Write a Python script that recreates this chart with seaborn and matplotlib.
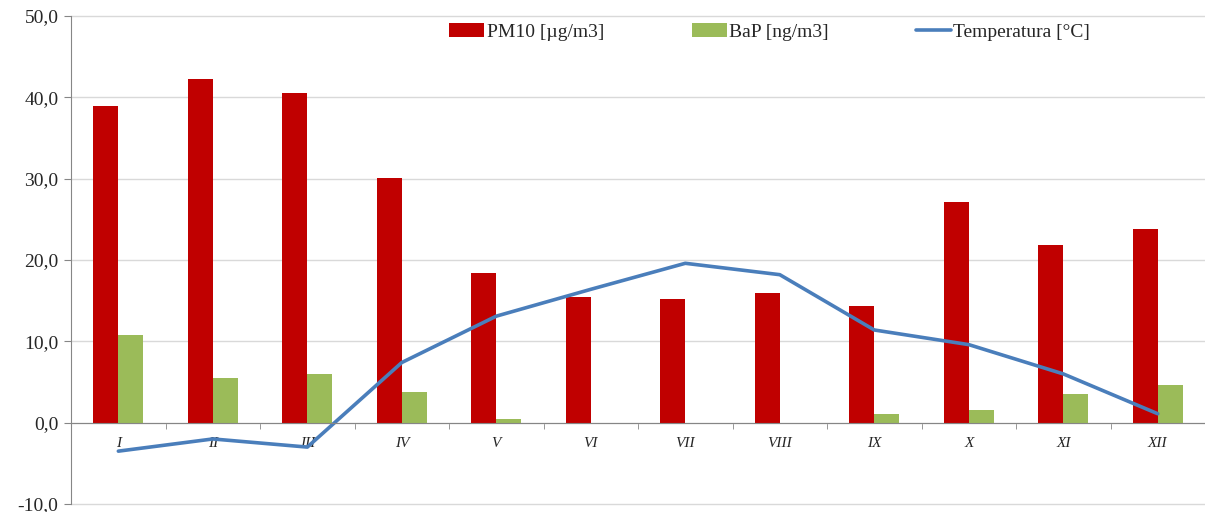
import numpy as np
import pandas as pd
import matplotlib
matplotlib.use("Agg")
import matplotlib.pyplot as plt
import matplotlib.ticker as ticker
import seaborn as sns

sns.set_style("white")
plt.rcParams['font.family'] = ['Liberation Serif', 'DejaVu Serif']

months = ["I", "II", "III", "IV", "V", "VI", "VII", "VIII", "IX", "X", "XI", "XII"]
pm10 = [38.9, 42.3, 40.5, 30.1, 18.4, 15.5, 15.2, 15.9, 14.4, 27.1, 21.9, 23.8]
bap = [10.8, 5.5, 6.0, 3.8, 0.4, 0.0, 0.0, 0.0, 1.1, 1.5, 3.5, 4.6]
temp = [-3.5, -2.0, -3.0, 7.4, 13.1, 16.4, 19.6, 18.2, 11.4, 9.6, 6.0, 1.1]

pm_label = "PM10 [µg/m3]"
bap_label = "BaP [ng/m3]"
temp_label = "Temperatura [°C]"

df = pd.DataFrame({
    "month": months * 2,
    "series": [pm_label] * 12 + [bap_label] * 12,
    "value": pm10 + bap,
})

fig = plt.figure(figsize=(12.05, 5.12), dpi=100)
ax = fig.add_axes([0.059, 0.0156, 0.941, 0.953])

sns.barplot(data=df, x="month", y="value", hue="series", order=months,
            palette={pm_label: "#C00000", bap_label: "#9BBB59"},
            width=0.526, gap=0, saturation=1, linewidth=0, ax=ax)
sns.lineplot(x=np.arange(12), y=temp, color="#4A7EBB", linewidth=2.6,
             label=temp_label, ax=ax)

ax.set_ylim(-10, 50)
ax.set_xlim(-0.5, 11.42)
ax.set_yticks(range(-10, 51, 10))
ax.yaxis.set_major_formatter(ticker.FuncFormatter(lambda v, p: f"{v:.1f}".replace(".", ",")))
ax.grid(axis="y", color="#D9D9D9", linewidth=1)
ax.set_axisbelow(True)
for gl in ax.get_ygridlines():
    gl.set_clip_on(False)
ax.set_xlabel("")
ax.set_ylabel("")

for s in ["top", "right"]:
    ax.spines[s].set_visible(False)
ax.spines["left"].set_color("#868686")
ax.spines["bottom"].set_color("#868686")
ax.spines["bottom"].set_position(("data", 0))

ax.tick_params(axis="y", labelsize=14, length=5, color="#868686", pad=4, left=True)
ax.tick_params(axis="x", which="major", length=0, pad=10, labelsize=11)
ax.set_xticks(np.arange(12) + 0.5, minor=True)
ax.tick_params(axis="x", which="minor", length=4, color="#868686", bottom=True)
for t in ax.get_xticklabels():
    t.set_fontstyle("italic")

handles, labels = ax.get_legend_handles_labels()
ax.legend(handles, labels, ncol=3, frameon=False, fontsize=14,
          loc="upper left", bbox_to_anchor=(0.373, 0.955), bbox_transform=fig.transFigure,
          borderpad=0, borderaxespad=0, handlelength=1.8, handletextpad=0.12,
          columnspacing=4.5)

plt.savefig("out.png", dpi=100)
